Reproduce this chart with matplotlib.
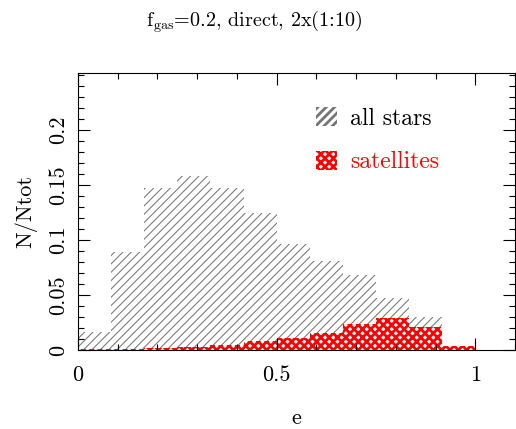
import numpy as np
import matplotlib
matplotlib.use("Agg")
import matplotlib.pyplot as plt
from matplotlib.patches import Patch
from matplotlib.ticker import MultipleLocator

plt.rcParams['font.family'] = ['cmr10', 'DejaVu Serif']
plt.rcParams['mathtext.fontset'] = 'cm'
plt.rcParams['axes.formatter.use_mathtext'] = True

# bin edges in e (12 bins of 1/12)
edges = np.linspace(0, 1, 13)
all_stars = [0.016, 0.089, 0.147, 0.158, 0.147, 0.125, 0.096, 0.081, 0.068, 0.047, 0.030, 0.0]
satellites = [0.0005, 0.001, 0.002, 0.003, 0.005, 0.008, 0.011, 0.0157, 0.024, 0.029, 0.021, 0.0036]

x_ticks = [0, 0.5, 1]
x_labels = ['0', '0.5', '1']
y_ticks = [0, 0.05, 0.1, 0.15, 0.2]
y_labels = ['0', '0.05', '0.1', '0.15', '0.2']

GRAY = '#757575'

fig = plt.figure(figsize=(5.16, 4.29), dpi=100)
ax = fig.add_axes([78 / 516, 1 - 350 / 429, (515 - 78) / 516, (350 - 73) / 429])

widths = np.diff(edges)
plt.rcParams['hatch.linewidth'] = 0.75
ax.bar(edges[:-1], all_stars, width=widths, align='edge', facecolor='white',
       edgecolor=GRAY, hatch='////', linewidth=0)
plt.rcParams['hatch.linewidth'] = 2.0
ax.bar(edges[:-1], satellites, width=widths, align='edge', facecolor='white',
       edgecolor='red', hatch='xxxx', linewidth=0)

ax.set_xlim(0, 1.1)
ax.set_ylim(0, 0.252)
ax.set_xticks(x_ticks)
ax.set_xticklabels(x_labels)
ax.set_yticks(y_ticks)
ax.set_yticklabels(y_labels, rotation=90, va='center')
ax.xaxis.set_minor_locator(MultipleLocator(0.1))
ax.yaxis.set_minor_locator(MultipleLocator(0.01))
ax.tick_params(which='both', direction='in', top=True, right=True, labelsize=16, width=0.8)
ax.tick_params(which='major', length=8.5)
ax.tick_params(which='minor', length=4.3)
ax.tick_params(axis='x', pad=11)
ax.tick_params(axis='y', pad=7)
for s in ax.spines.values():
    s.set_linewidth(0.8)

ax.set_xlabel('e', fontsize=16, labelpad=17)
ax.set_ylabel('N/Ntot', fontsize=16, labelpad=8)
fig.text(0.492, 0.937, r'f$_{\rm gas}$=0.2, direct, 2x(1:10)', fontsize=14.5, ha='center')

# legend
plt.rcParams['hatch.linewidth'] = 0.75
h1 = Patch(facecolor='white', edgecolor=GRAY, hatch='////', linewidth=0)
plt.rcParams['hatch.linewidth'] = 2.0
h2 = Patch(facecolor='white', edgecolor='red', hatch='xxxx', linewidth=0)
leg = ax.legend([h1, h2], ['all stars', 'satellites'], loc='upper left',
                bbox_to_anchor=(0.544, 0.878), frameon=False, fontsize=17,
                handlelength=0.9, handleheight=0.9, handletextpad=0.55,
                labelspacing=0.88, borderpad=0, borderaxespad=0)
leg.get_texts()[1].set_color('red')

fig.savefig('out.png', dpi=100)
